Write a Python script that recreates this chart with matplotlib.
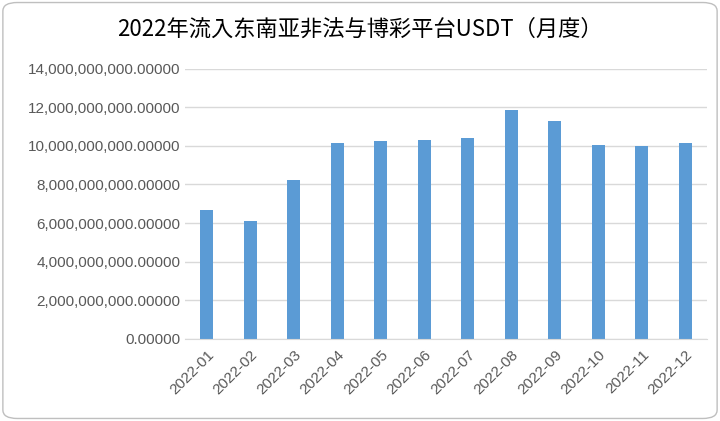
import matplotlib
matplotlib.use("Agg")
import matplotlib.pyplot as plt
from matplotlib import font_manager
from matplotlib.patches import FancyBboxPatch
from matplotlib.ticker import FuncFormatter

months = ["2022-01", "2022-02", "2022-03", "2022-04", "2022-05", "2022-06",
          "2022-07", "2022-08", "2022-09", "2022-10", "2022-11", "2022-12"]
usdt = [6.68e9, 6.12e9, 8.22e9, 10.15e9, 10.27e9, 10.32e9,
        10.42e9, 11.87e9, 11.30e9, 10.06e9, 10.0e9, 10.15e9]

# find a CJK font file directly, in case the family name lookup fails
cjk = None
for f in font_manager.findSystemFonts():
    name = f.lower()
    if "notosanscjk" in name.replace("-", "").replace("_", "") or "notosanssc" in name:
        cjk = f
        if "sc" in name or "ttc" in name:
            break
if cjk:
    font_manager.fontManager.addfont(cjk)
    title_font = font_manager.FontProperties(fname=cjk, size=16)
else:
    title_font = font_manager.FontProperties(family="Noto Sans CJK SC", size=16)

plt.rcParams["font.family"] = ["Liberation Sans", "DejaVu Sans"]
fig = plt.figure(figsize=(7.2, 4.21), dpi=100)
fig.patches.append(FancyBboxPatch((0.004, 0.006), 0.992, 0.988,
                                  boxstyle="round,pad=0,rounding_size=0.02",
                                  transform=fig.transFigure, fill=False,
                                  edgecolor="#bfbfbf", linewidth=1))
ax = fig.add_axes([0.257, 0.195, 0.725, 0.642])
x = range(len(months))
ax.bar(x, usdt, width=0.3, color="#5b9bd5", zorder=2)
ax.set_xlim(-0.5, 11.5)
ax.set_ylim(0, 14e9)
ax.set_yticks([i * 2e9 for i in range(8)])
ax.yaxis.set_major_formatter(FuncFormatter(lambda v, p: f"{v:,.5f}"))
ax.grid(axis="y", color="#d9d9d9", linewidth=1, zorder=0)
ax.set_xticks(list(x))
ax.set_xticklabels(months, rotation=45, ha="right", rotation_mode="anchor")
ax.tick_params(length=0, labelsize=11, colors="#595959")
ax.tick_params(axis="x", pad=6)
for s in ["top", "right", "left"]:
    ax.spines[s].set_visible(False)
ax.spines["bottom"].set_color("#d9d9d9")
fig.text(0.5, 0.93, "2022年流入东南亚非法与博彩平台USDT（月度）",
         ha="center", va="center", fontproperties=title_font, color="black")
fig.savefig("out.png", dpi=100)
